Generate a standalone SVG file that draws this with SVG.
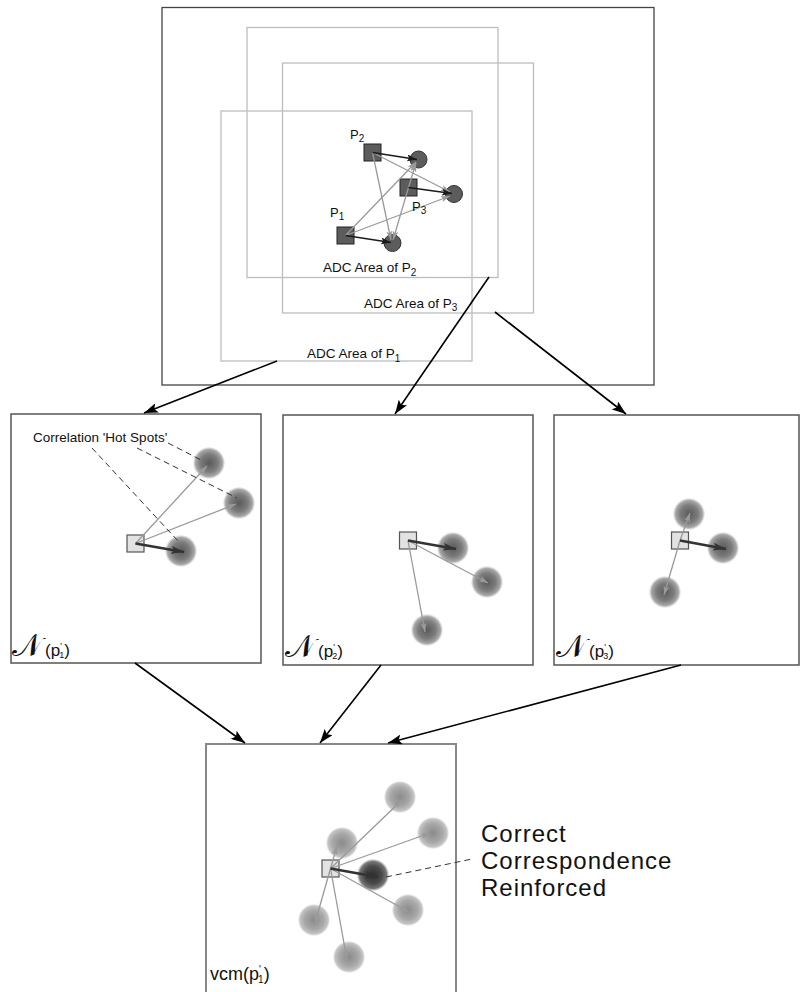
<svg xmlns="http://www.w3.org/2000/svg" width="801" height="992" viewBox="0 0 801 992">
  <style>
    text { font-family: "Liberation Sans", Arial, sans-serif; fill: #111; }
    .lbl { font-size: 13.5px; }
    .plbl { font-size: 13px; }
    .big { font-size: 24px; letter-spacing: 1px; }
    .scr { font-family: "DejaVu Serif", "DejaVu Sans", serif; font-size: 31px; }
    .nlbl { font-size: 17px; }
    .frame { fill: #fff; stroke: #444; stroke-width: 1.3; }
    .adc { fill: none; stroke: #bdbdbd; stroke-width: 1.3; }
    .pane { fill: #fff; stroke: #555; stroke-width: 1.5; }
    .pane2 { fill: #fff; stroke: #888; stroke-width: 2; }
    .psq { fill: #5c5c5c; stroke: #222; stroke-width: 1; }
    .pci { fill: #5c5c5c; stroke: #333; stroke-width: 1; }
    .qsq { fill: #e2e2e2; stroke: #555; stroke-width: 1.2; }
    .blk { stroke: #1a1a1a; stroke-width: 1.5; fill: none; marker-end: url(#blkHead); }
    .gry { stroke: #9a9a9a; stroke-width: 1.3; fill: none; marker-end: url(#gryHead); }
    .thick { stroke: #333; stroke-width: 2.6; fill: none; marker-end: url(#thickHead); }
    .conn { stroke: #000; stroke-width: 1.6; fill: none; marker-end: url(#connHead); }
    .dash { stroke: #333; stroke-width: 1; stroke-dasharray: 6 4; fill: none; }
  </style>
  <defs>
    <marker id="connHead" markerUnits="userSpaceOnUse" viewBox="0 0 14 10" markerWidth="14" markerHeight="10" refX="14" refY="5" orient="auto">
      <path d="M0,0 L14,5 L0,10 L3,5 z" fill="#000"/>
    </marker>
    <marker id="blkHead" markerUnits="userSpaceOnUse" viewBox="0 0 10 7" markerWidth="10" markerHeight="7" refX="10" refY="3.5" orient="auto">
      <path d="M0,0 L10,3.5 L0,7 L2,3.5 z" fill="#1a1a1a"/>
    </marker>
    <marker id="gryHead" markerUnits="userSpaceOnUse" viewBox="0 0 9 6" markerWidth="9" markerHeight="6" refX="9" refY="3" orient="auto">
      <path d="M0,0 L9,3 L0,6 L2,3 z" fill="#9a9a9a"/>
    </marker>
    <marker id="thickHead" markerUnits="userSpaceOnUse" viewBox="0 0 13 8" markerWidth="13" markerHeight="8" refX="13" refY="4" orient="auto">
      <path d="M0,0 L13,4 L0,8 L3,4 z" fill="#333"/>
    </marker>
    <radialGradient id="spot">
      <stop offset="0" stop-color="#5a5a5a"/>
      <stop offset="0.55" stop-color="#7c7c7c"/>
      <stop offset="0.85" stop-color="#a8a8a8"/>
      <stop offset="1" stop-color="#cfcfcf" stop-opacity="0.2"/>
    </radialGradient>
    <radialGradient id="spotLight">
      <stop offset="0" stop-color="#8a8a8a"/>
      <stop offset="0.6" stop-color="#a8a8a8"/>
      <stop offset="0.88" stop-color="#c4c4c4"/>
      <stop offset="1" stop-color="#d8d8d8" stop-opacity="0.2"/>
    </radialGradient>
    <radialGradient id="spotDark">
      <stop offset="0" stop-color="#2e2e2e"/>
      <stop offset="0.55" stop-color="#4a4a4a"/>
      <stop offset="0.85" stop-color="#777"/>
      <stop offset="1" stop-color="#aaa" stop-opacity="0.2"/>
    </radialGradient>
  </defs>

  <!-- top overview: three points and their ADC areas -->
  <g id="overview">
    <rect class="frame" x="162" y="7.5" width="492" height="377.5"/>
    <rect class="adc" x="247" y="27.5" width="251" height="250"/>
    <rect class="adc" x="282.5" y="63" width="251" height="250"/>
    <rect class="adc" x="221" y="111" width="251" height="250"/>
    <text class="lbl" x="323" y="272">ADC Area of P<tspan font-size="10" dy="3.5">2</tspan></text>
    <text class="lbl" x="364" y="307.5">ADC Area of P<tspan font-size="10" dy="3.5">3</tspan></text>
    <text class="lbl" x="307" y="358">ADC Area of P<tspan font-size="10" dy="3.5">1</tspan></text>
    <circle class="pci" cx="418.5" cy="159.5" r="8.5"/>
    <circle class="pci" cx="454" cy="194" r="8.5"/>
    <circle class="pci" cx="392.5" cy="243" r="8.5"/>
    <rect class="psq" x="364" y="144" width="17" height="17"/>
    <rect class="psq" x="400" y="179" width="17" height="17"/>
    <rect class="psq" x="337" y="227" width="17" height="17"/>
    <line class="gry" x1="372.5" y1="152.5" x2="450" y2="192"/>
    <line class="gry" x1="372.5" y1="152.5" x2="391" y2="240"/>
    <line class="gry" x1="345.5" y1="235.5" x2="416" y2="162"/>
    <line class="gry" x1="345.5" y1="235.5" x2="450" y2="196"/>
    <line class="gry" x1="408.5" y1="187.5" x2="416" y2="163"/>
    <line class="gry" x1="408.5" y1="187.5" x2="393" y2="240"/>
    <line class="blk" x1="372.5" y1="152.5" x2="417" y2="159.5"/>
    <line class="blk" x1="408.5" y1="187.5" x2="452" y2="193.5"/>
    <line class="blk" x1="345.5" y1="235.5" x2="391" y2="242.5"/>
    <text class="plbl" x="350" y="139">P<tspan font-size="10" dy="3">2</tspan></text>
    <text class="plbl" x="330" y="217">P<tspan font-size="10" dy="3">1</tspan></text>
    <text class="plbl" x="412" y="211">P<tspan font-size="10" dy="3">3</tspan></text>
  </g>

  <!-- neighbourhood of p1 -->
  <g id="nbhd1">
    <rect class="pane" x="11" y="414" width="250" height="249"/>
    <circle cx="209" cy="463" r="16" fill="url(#spot)"/>
    <circle cx="239" cy="503" r="16" fill="url(#spot)"/>
    <circle cx="181" cy="551" r="16" fill="url(#spot)"/>
    <rect class="qsq" x="127" y="535" width="17" height="17"/>
    <line class="gry" x1="135.5" y1="543.5" x2="207" y2="466"/>
    <line class="gry" x1="135.5" y1="543.5" x2="236" y2="504"/>
    <line class="thick" x1="135.5" y1="543.5" x2="184" y2="552"/>
    <line class="dash" x1="168" y1="443" x2="203" y2="461"/>
    <line class="dash" x1="137" y1="448" x2="237" y2="498"/>
    <line class="dash" x1="92" y1="448" x2="179" y2="542"/>
    <text class="lbl" x="33" y="442">Correlation 'Hot Spots'</text>
    <text x="12" y="656"><tspan class="scr">𝒩</tspan><tspan class="nlbl" dx="3">(p</tspan><tspan font-size="9" dy="-7">'</tspan><tspan font-size="9" dx="-2.5" dy="9">1</tspan><tspan class="nlbl" dy="-2">)</tspan></text>
  </g>

  <!-- neighbourhood of p2 -->
  <g id="nbhd2">
    <rect class="pane" x="283" y="415" width="250" height="250"/>
    <circle cx="453" cy="548" r="16" fill="url(#spot)"/>
    <circle cx="487" cy="582" r="16" fill="url(#spot)"/>
    <circle cx="427" cy="630" r="16" fill="url(#spot)"/>
    <rect class="qsq" x="399.5" y="532" width="17" height="17"/>
    <line class="gry" x1="408" y1="540.5" x2="488" y2="583"/>
    <line class="gry" x1="408" y1="540.5" x2="425" y2="632"/>
    <line class="thick" x1="408" y1="540.5" x2="456" y2="549"/>
    <text x="285" y="657"><tspan class="scr">𝒩</tspan><tspan class="nlbl" dx="3">(p</tspan><tspan font-size="9" dy="-7">'</tspan><tspan font-size="9" dx="-2.5" dy="9">2</tspan><tspan class="nlbl" dy="-2">)</tspan></text>
  </g>

  <!-- neighbourhood of p3 -->
  <g id="nbhd3">
    <rect class="pane" x="554" y="415" width="245" height="250"/>
    <circle cx="689" cy="514" r="16" fill="url(#spot)"/>
    <circle cx="723" cy="548" r="16" fill="url(#spot)"/>
    <circle cx="665" cy="592" r="16" fill="url(#spot)"/>
    <rect class="qsq" x="671.5" y="532" width="17" height="17"/>
    <line class="gry" x1="680" y1="540.5" x2="690" y2="513"/>
    <line class="gry" x1="680" y1="540.5" x2="664" y2="595"/>
    <line class="thick" x1="680" y1="540.5" x2="726" y2="549"/>
    <text x="556" y="657"><tspan class="scr">𝒩</tspan><tspan class="nlbl" dx="3">(p</tspan><tspan font-size="9" dy="-7">'</tspan><tspan font-size="9" dx="-2.5" dy="9">3</tspan><tspan class="nlbl" dy="-2">)</tspan></text>
  </g>

  <!-- combined vote map -->
  <g id="vcm">
    <rect class="pane2" x="206" y="744" width="250" height="260"/>
    <circle cx="400" cy="797" r="16" fill="url(#spotLight)"/>
    <circle cx="433" cy="833" r="16" fill="url(#spotLight)"/>
    <circle cx="342" cy="843" r="16" fill="url(#spotLight)"/>
    <circle cx="408" cy="910" r="16" fill="url(#spotLight)"/>
    <circle cx="314" cy="920" r="16" fill="url(#spotLight)"/>
    <circle cx="349" cy="957" r="16" fill="url(#spotLight)"/>
    <circle cx="373" cy="875" r="16" fill="url(#spotDark)"/>
    <rect class="qsq" x="322" y="860" width="17" height="17"/>
    <line class="gry" x1="330.5" y1="868.5" x2="402" y2="800"/>
    <line class="gry" x1="330.5" y1="868.5" x2="430" y2="833"/>
    <line class="gry" x1="330.5" y1="868.5" x2="337" y2="846"/>
    <line class="gry" x1="330.5" y1="868.5" x2="409" y2="912"/>
    <line class="gry" x1="330.5" y1="868.5" x2="315" y2="923"/>
    <line class="gry" x1="330.5" y1="868.5" x2="347" y2="960"/>
    <line class="thick" x1="330.5" y1="868.5" x2="378" y2="877"/>
    <line class="dash" x1="386" y1="877" x2="472" y2="859"/>
    <text class="big" x="481" y="842">Correct<tspan x="481" dy="27">Correspondence</tspan><tspan x="481" dy="27">Reinforced</tspan></text>
    <text x="210" y="980"><tspan font-size="18">vcm(p</tspan><tspan font-size="10" dy="-7">'</tspan><tspan font-size="10" dx="-2.8" dy="10">1</tspan><tspan font-size="18" dy="-3">)</tspan></text>
  </g>

  <!-- flow between panels -->
  <g id="connectors">
    <line class="conn" x1="277" y1="361" x2="144" y2="413"/>
    <line class="conn" x1="489" y1="277" x2="395" y2="414"/>
    <line class="conn" x1="495" y1="312" x2="626" y2="414"/>
    <line class="conn" x1="135" y1="663" x2="245" y2="743"/>
    <line class="conn" x1="381" y1="665" x2="320" y2="743"/>
    <line class="conn" x1="681" y1="665" x2="388" y2="743"/>
  </g>
</svg>
